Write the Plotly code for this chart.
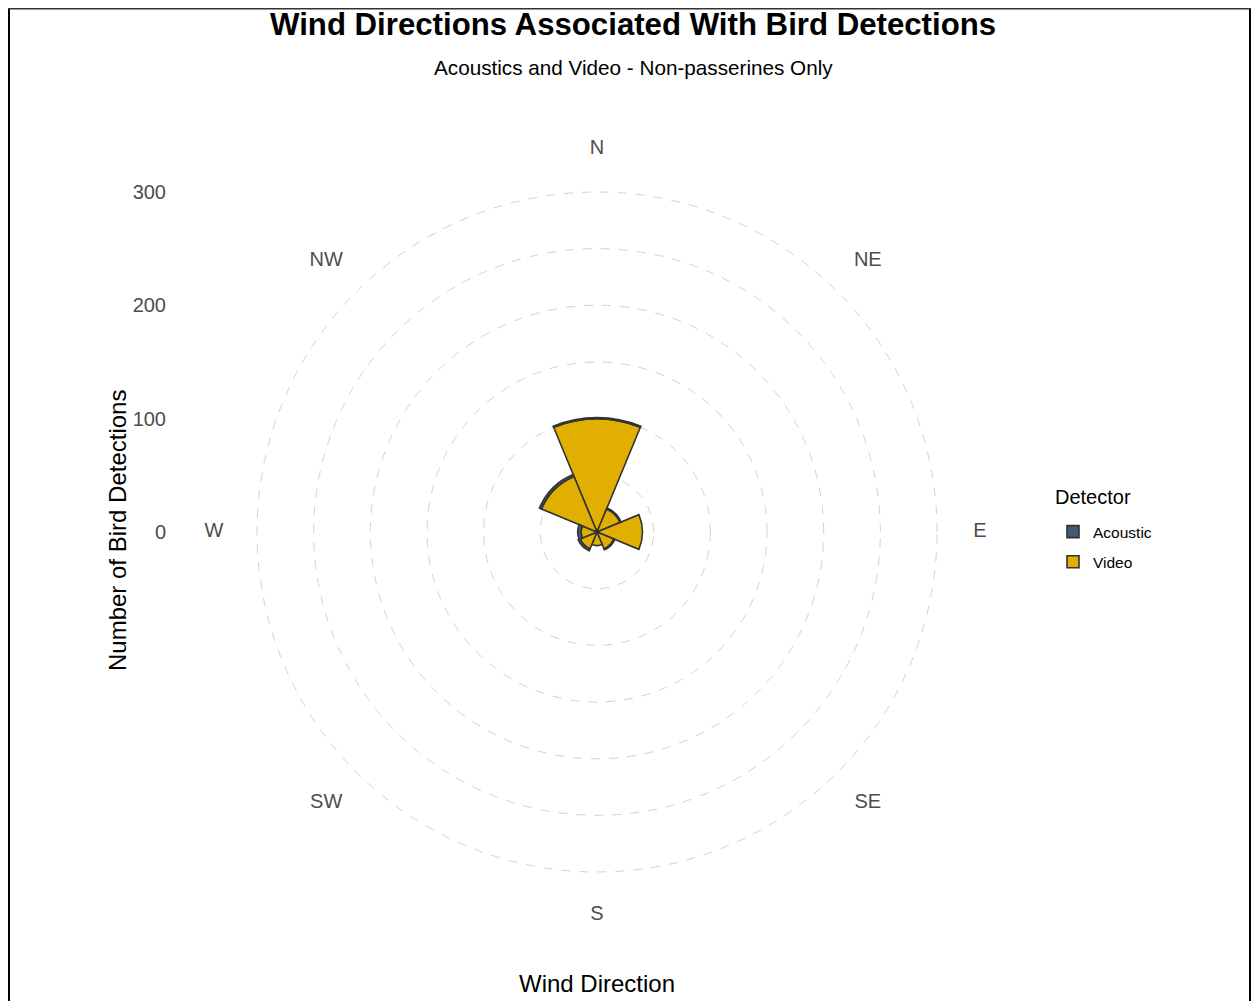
import plotly.graph_objects as go

directions = ["N", "NE", "E", "SE", "S", "SW", "W", "NW"]
video = [100, 22, 40, 16, 12, 16, 14, 53]
acoustic = [1, 1, 0, 1, 0, 2, 3, 2]
radial_ticks = [0, 100, 200, 300]

W, H = 1259, 1001
OFF = 8  # page margin of the html body
cx, cy = 597, 532          # polar centre in reference pixels
R300 = 340                 # radius of the 300 circle in reference pixels
RMAX = 345                 # room for the compass labels inside the polar range
R = R300 * RMAX / 300
LABEL_R = 383 / R300 * 300  # compass labels sit outside the 300 circle

def px(x):
    return (x - OFF) / W

def py(y):
    return 1 - (y - OFF) / H

acoustic_col = "#435a74"
video_col = "#E1AF00"
edge = "#333333"

fig = go.Figure()
fig.add_trace(go.Barpolar(r=video, theta=directions, name="Video", legendgroup="v", legendrank=2,
                          marker=dict(color=video_col, line=dict(color=edge, width=1.6))))
fig.add_trace(go.Barpolar(r=acoustic, theta=directions, name="Acoustic", legendgroup="a", legendrank=1,
                          marker=dict(color=acoustic_col, line=dict(color=edge, width=1.6))))
fig.add_trace(go.Scatterpolar(r=[LABEL_R] * len(directions), theta=directions, mode="text",
                              text=directions, textposition="middle center",
                              textfont=dict(size=20, color="#4d4d4d"),
                              showlegend=False, hoverinfo="skip"))

# invisible cartesian axes carrying the radial scale on the left
fig.add_trace(go.Scatter(x=[0.5], y=[0], mode="markers", marker=dict(opacity=0),
                         showlegend=False, hoverinfo="skip", xaxis="x", yaxis="y"))

fig.update_layout(
    width=W, height=H,
    margin=dict(l=0, r=0, t=0, b=0, autoexpand=False),
    paper_bgcolor="white", plot_bgcolor="rgba(0,0,0,0)",
    font=dict(family="Liberation Sans, Arial, sans-serif"),
    polar=dict(
        domain=dict(x=[px(cx - R), px(cx + R)], y=[py(cy + R), py(cy - R)]),
        bgcolor="rgba(0,0,0,0)",
        bargap=0,
        radialaxis=dict(range=[0, RMAX], tickvals=[50, 100, 150, 200, 250, 300],
                        showticklabels=False, ticks="", showline=False,
                        gridcolor="#d2d2d2", griddash="dash", gridwidth=1),
        angularaxis=dict(direction="clockwise", rotation=90,
                         categoryarray=directions, categoryorder="array",
                         showgrid=False, showline=False, ticks="",
                         showticklabels=False),
    ),
    xaxis=dict(domain=[px(167), px(200)], range=[0, 1], visible=False, fixedrange=True),
    yaxis=dict(domain=[py(cy + R300), py(cy - R300)], range=[-300, 300],
               tickvals=radial_ticks, ticktext=[str(v) for v in radial_ticks],
               showgrid=False, zeroline=False, showline=False, ticks="",
               tickfont=dict(size=20, color="#4d4d4d"), anchor="x", side="left",
               automargin=False, fixedrange=True),
    showlegend=True,
    legend=dict(x=px(1053), y=py(515), xanchor="left", yanchor="top",
                traceorder="grouped", tracegroupgap=7,
                font=dict(size=15.5, color="black"), bgcolor="rgba(0,0,0,0)"),
)

fig.add_annotation(text="Detector", x=px(1053), y=py(497), xref="paper", yref="paper",
                   showarrow=False, xanchor="left", yanchor="middle",
                   font=dict(size=20, color="black"))
fig.add_annotation(text="<b>Wind Directions Associated With Bird Detections</b>",
                   x=px(633), y=py(25), xref="paper", yref="paper", showarrow=False,
                   xanchor="center", yanchor="middle", font=dict(size=31.2, color="black"))
fig.add_annotation(text="Acoustics and Video - Non-passerines Only",
                   x=px(633), y=py(68), xref="paper", yref="paper", showarrow=False,
                   xanchor="center", yanchor="middle", font=dict(size=20.7, color="black"))
fig.add_annotation(text="Wind Direction", x=px(597), y=py(983), xref="paper", yref="paper",
                   xanchor="center", yanchor="middle",
                   showarrow=False, font=dict(size=24, color="black"))
fig.add_annotation(text="Number of Bird Detections", x=px(117), y=py(531), xref="paper",
                   yref="paper", showarrow=False, textangle=-90, xanchor="center", yanchor="middle",
                   font=dict(size=24, color="black"))

# frame around the figure
fig.add_shape(type="line", xref="paper", yref="paper", x0=px(9), x1=px(9), y0=-0.05, y1=1,
              line=dict(color="black", width=2))
fig.add_shape(type="line", xref="paper", yref="paper", x0=px(1250), x1=px(1250), y0=-0.05, y1=1,
              line=dict(color="black", width=2))
fig.add_shape(type="line", xref="paper", yref="paper", x0=px(8), x1=px(1258), y0=1, y1=1,
              line=dict(color="#333333", width=3))

fig.write_html("out.html")
